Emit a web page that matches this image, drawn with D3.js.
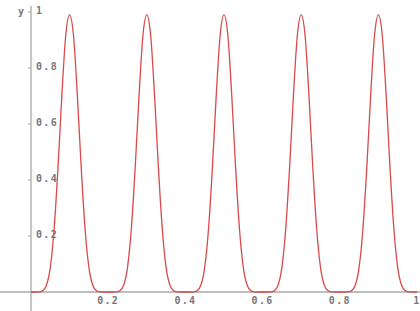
<!DOCTYPE html>
<html><head><meta charset="utf-8">
<script src="https://cdn.jsdelivr.net/npm/d3@7"></script>
<style>body{margin:0;background:#fff}svg{display:block}</style>
</head><body>
<svg id="c" width="420" height="311"></svg>
<script>
const xValues = d3.range(0, 101).map(i => i / 100);
const yValues = [
  0,0,0.0003,0.004,0.024,0.088,0.227,0.446,0.704,0.917,0.99,0.917,0.704,0.446,0.227,0.088,0.024,0.004,0.0003,0,
  0,0,0.0003,0.004,0.024,0.088,0.227,0.446,0.704,0.917,0.99,0.917,0.704,0.446,0.227,0.088,0.024,0.004,0.0003,0,
  0,0,0.0003,0.004,0.024,0.088,0.227,0.446,0.704,0.917,0.99,0.917,0.704,0.446,0.227,0.088,0.024,0.004,0.0003,0,
  0,0,0.0003,0.004,0.024,0.088,0.227,0.446,0.704,0.917,0.99,0.917,0.704,0.446,0.227,0.088,0.024,0.004,0.0003,0,
  0,0,0.0003,0.004,0.024,0.088,0.227,0.446,0.704,0.917,0.99,0.917,0.704,0.446,0.227,0.088,0.024,0.004,0.0003,0,
  0
];
const xTicks = [0.2, 0.4, 0.6, 0.8, 1];
const yTicks = [0.2, 0.4, 0.6, 0.8, 1];
const xTickLabels = ["0.2", "0.4", "0.6", "0.8", "1"];
const yTickLabels = ["0.2", "0.4", "0.6", "0.8", "1"];

const svg = d3.select("#c");
const x = d3.scaleLinear().domain([0, 1]).range([31, 417]);
const y = d3.scaleLinear().domain([0, 1]).range([292, 12]);
const axisColor = "#a8a8a8";
const textColor = "#777";
const font = "'DejaVu Sans Mono', monospace";

// axes lines
svg.append("line").attr("x1", 0).attr("x2", 420).attr("y1", y(0)).attr("y2", y(0))
  .attr("stroke", axisColor).attr("stroke-width", 1.3);
svg.append("line").attr("x1", x(0)).attr("x2", x(0)).attr("y1", 6).attr("y2", 311)
  .attr("stroke", axisColor).attr("stroke-width", 1.3);

// y ticks
const yg = svg.append("g");
yg.selectAll("line").data(yTicks).join("line")
  .attr("x1", x(0) - 3).attr("x2", x(0)).attr("y1", d => y(d)).attr("y2", d => y(d))
  .attr("stroke", axisColor);
yg.selectAll("text").data(yTicks).join("text")
  .attr("x", x(0) + 5).attr("y", d => y(d) - 2).attr("dy", "0.35em")
  .attr("font-family", font).attr("font-size", 10).attr("font-weight", "bold").attr("letter-spacing", 1.3)
  .attr("fill", textColor).text((d, i) => yTickLabels[i]);

// x ticks
const xg = svg.append("g");
xg.selectAll("text").data(xTicks).join("text")
  .attr("x", d => x(d)).attr("y", y(0) + 12).attr("text-anchor", "middle")
  .attr("font-family", font).attr("font-size", 10).attr("font-weight", "bold").attr("letter-spacing", 1.3)
  .attr("fill", textColor).text((d, i) => xTickLabels[i]);

// axis name
svg.append("text").attr("x", 18).attr("y", 11).attr("dy", "0.35em")
  .attr("font-family", font).attr("font-size", 10).attr("font-weight", "bold").attr("fill", textColor).text("y");

// curve
const data = xValues.map((v, i) => [v, yValues[i]]);
const line = d3.line().x(d => x(d[0])).y(d => y(d[1])).curve(d3.curveMonotoneX);
svg.append("path").datum(data).attr("d", line)
  .attr("fill", "none").attr("stroke", "#d94a4a").attr("stroke-width", 1.3);
</script>
</body></html>
